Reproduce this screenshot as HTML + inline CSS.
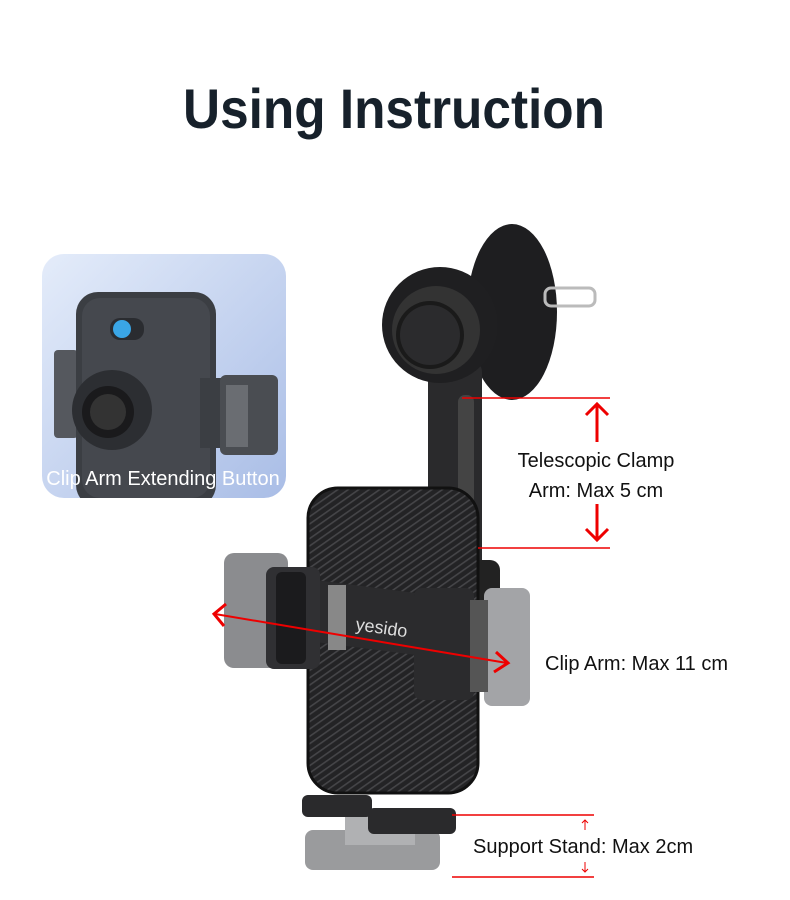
<!DOCTYPE html>
<html><head><meta charset="utf-8"><style>
html,body{margin:0;padding:0;background:#fff;}
svg{display:block}
</style></head><body>
<svg width="790" height="900" viewBox="0 0 790 900" xmlns="http://www.w3.org/2000/svg" font-family="Liberation Sans, sans-serif">
<defs>
<linearGradient id="bg" x1="0" y1="0" x2="1" y2="1"><stop offset="0" stop-color="#e4ecfa"/><stop offset="1" stop-color="#a9bde6"/></linearGradient>
<pattern id="cf" width="6" height="6" patternUnits="userSpaceOnUse" patternTransform="rotate(-35)"><rect width="6" height="6" fill="#232325"/><rect width="6" height="1.6" fill="#454548"/></pattern>
</defs>
<rect width="790" height="900" fill="#fff"/>
<text x="394" y="128" text-anchor="middle" font-size="56" font-weight="bold" fill="#17212b" textLength="422" lengthAdjust="spacingAndGlyphs">Using Instruction</text>

<!-- inset -->
<clipPath id="ic"><rect x="42" y="254" width="244" height="244" rx="22"/></clipPath>
<g clip-path="url(#ic)">
<rect x="42" y="254" width="244" height="244" fill="url(#bg)"/>
<rect x="54" y="350" width="24" height="88" rx="4" fill="#55585e"/>
<rect x="76" y="292" width="140" height="215" rx="22" fill="#3b3e43"/>
<rect x="82" y="298" width="128" height="200" rx="18" fill="#45484e"/>
<rect x="200" y="378" width="30" height="70" fill="#3b3e43"/>
<rect x="220" y="375" width="58" height="80" rx="6" fill="#4a4d52"/>
<rect x="226" y="385" width="22" height="62" fill="#6a6d72"/>
<rect x="110" y="318" width="34" height="22" rx="10" fill="#2a2c30"/>
<circle cx="122" cy="329" r="9" fill="#3aa6e6"/>
<circle cx="112" cy="410" r="40" fill="#2c2e32"/>
<circle cx="108" cy="412" r="26" fill="#1a1a1c"/>
<circle cx="108" cy="412" r="18" fill="#333"/>
<text x="163" y="485" text-anchor="middle" font-size="20" fill="#fff">Clip Arm Extending Button</text>
</g>

<!-- vent clip back disc -->
<ellipse cx="512" cy="312" rx="45" ry="88" fill="#1e1e20"/>
<rect x="545" y="288" width="50" height="18" rx="6" fill="none" stroke="#bbb" stroke-width="3"/>
<!-- arm -->
<rect x="428" y="360" width="54" height="250" rx="12" fill="#2a2a2c"/>
<rect x="458" y="395" width="16" height="150" rx="7" fill="#444"/>
<rect x="470" y="560" width="30" height="120" rx="10" fill="#222"/>
<!-- knob -->
<circle cx="440" cy="325" r="58" fill="#1f1f21"/>
<circle cx="436" cy="330" r="44" fill="#333"/>
<circle cx="430" cy="335" r="34" fill="#1a1a1a"/>
<circle cx="430" cy="335" r="30" fill="#2b2b2d"/>

<!-- ghost clips -->
<rect x="224" y="553" width="64" height="115" rx="10" fill="#8b8c8f"/>
<rect x="484" y="588" width="46" height="118" rx="8" fill="#a3a4a7"/>
<!-- phone body -->
<rect x="308" y="488" width="170" height="305" rx="30" fill="url(#cf)"/>
<rect x="308" y="488" width="170" height="305" rx="30" fill="none" stroke="#111" stroke-width="3"/>
<!-- band -->
<path d="M300 578 L470 600 L470 662 L300 640 Z" fill="#2b2b2d"/>
<rect x="328" y="585" width="18" height="65" fill="#888"/>
<text x="355" y="630" font-size="18" fill="#ddd" transform="rotate(8 355 630)">yesido</text>
<!-- dark clips -->
<rect x="266" y="567" width="54" height="102" rx="8" fill="#303033"/>
<rect x="276" y="572" width="30" height="92" rx="6" fill="#1b1b1d"/>
<rect x="414" y="588" width="60" height="112" rx="8" fill="#2b2b2d"/>
<rect x="470" y="600" width="18" height="92" fill="#555"/>

<!-- stand -->
<rect x="305" y="830" width="135" height="40" rx="8" fill="#9a9b9d"/>
<rect x="345" y="815" width="70" height="30" fill="#b0b1b3"/>
<rect x="302" y="795" width="70" height="22" rx="6" fill="#2a2a2c"/>
<rect x="368" y="808" width="88" height="26" rx="6" fill="#2a2a2c"/>

<!-- annotations -->
<g stroke="#e00" fill="none">
<line x1="462" y1="398" x2="610" y2="398" stroke-width="1.5"/>
<line x1="478" y1="548" x2="610" y2="548" stroke-width="1.5"/>
<line x1="597" y1="442" x2="597" y2="404" stroke-width="3"/>
<polyline points="586,415 597,404 608,415" stroke-width="3"/>
<line x1="597" y1="504" x2="597" y2="540" stroke-width="3"/>
<polyline points="586,529 597,540 608,529" stroke-width="3"/>
<line x1="215" y1="614" x2="507" y2="663" stroke-width="2"/>
<polyline points="226,604 214,614 224,626" stroke-width="3"/>
<polyline points="496,652 508,663 494,672" stroke-width="3"/>
<line x1="452" y1="815" x2="594" y2="815" stroke-width="1.5"/>
<line x1="452" y1="877" x2="594" y2="877" stroke-width="1.5"/>
<line x1="585" y1="820" x2="585" y2="830"/><polyline points="582,823 585,820 588,823"/>
<line x1="585" y1="862" x2="585" y2="872"/><polyline points="582,869 585,872 588,869"/>
</g>
<g font-size="20" fill="#111">
<text x="596" y="467" text-anchor="middle">Telescopic Clamp</text>
<text x="596" y="497" text-anchor="middle">Arm: Max 5 cm</text>
<text x="545" y="670">Clip Arm: Max 11 cm</text>
<text x="473" y="853">Support Stand: Max 2cm</text>
</g>
</svg>
</body></html>
